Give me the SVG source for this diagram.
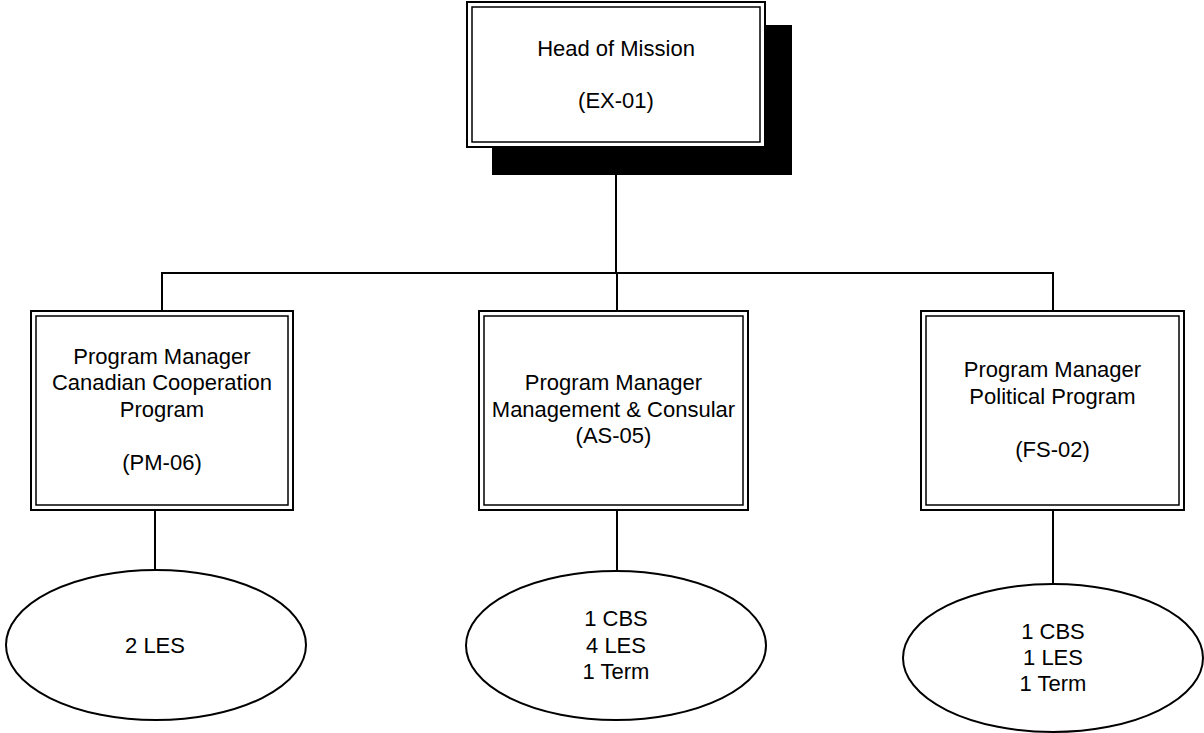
<svg xmlns="http://www.w3.org/2000/svg" width="1204" height="733" viewBox="0 0 1204 733">
<style>
.o{fill:#fff;stroke:#000;stroke-width:2}
.i{fill:none;stroke:#000;stroke-width:1.5}
.e{fill:#fff;stroke:#000;stroke-width:2}
.c{stroke:#000;stroke-width:2;fill:none}
text{font-family:"Liberation Sans",Arial,sans-serif;font-size:22px;fill:#000;text-anchor:middle}
</style>
<rect x="0" y="0" width="1204" height="733" fill="#fff"/>
<g id="connectors">
<line class="c" x1="616" y1="147" x2="616" y2="273"/>
<line class="c" x1="161" y1="273" x2="1054" y2="273"/>
<line class="c" x1="162" y1="273" x2="162" y2="311"/>
<line class="c" x1="617" y1="273" x2="617" y2="311"/>
<line class="c" x1="1053" y1="273" x2="1053" y2="311"/>
<line class="c" x1="155" y1="510" x2="155" y2="570"/>
<line class="c" x1="617" y1="510" x2="617" y2="571"/>
<line class="c" x1="1053" y1="510" x2="1053" y2="583"/>
</g>
<g id="head">
<rect x="492" y="25" width="300" height="150" fill="#000"/>
<rect class="o" x="467" y="2" width="298" height="145"/>
<rect class="i" x="472" y="7" width="288" height="135"/>
<text x="616" y="56">Head of Mission</text>
<text x="616" y="108">(EX-01)</text>
</g>
<g id="pm-cooperation">
<rect class="o" x="31" y="311" width="262" height="199"/>
<rect class="i" x="36" y="316" width="252" height="189"/>
<text x="162" y="364">Program Manager</text>
<text x="162" y="390">Canadian Cooperation</text>
<text x="162" y="417">Program</text>
<text x="162" y="470">(PM-06)</text>
</g>
<g id="pm-management">
<rect class="o" x="479" y="311" width="269" height="199"/>
<rect class="i" x="484" y="316" width="259" height="189"/>
<text x="613.5" y="390">Program Manager</text>
<text x="613.5" y="417">Management &amp; Consular</text>
<text x="613.5" y="443">(AS-05)</text>
</g>
<g id="pm-political">
<rect class="o" x="921" y="311" width="263" height="199"/>
<rect class="i" x="926" y="316" width="253" height="189"/>
<text x="1052.5" y="377">Program Manager</text>
<text x="1052.5" y="404">Political Program</text>
<text x="1052.5" y="457">(FS-02)</text>
</g>
<g id="staff-cooperation">
<ellipse class="e" cx="156" cy="645" rx="150" ry="75"/>
<text x="155" y="653">2 LES</text>
</g>
<g id="staff-management">
<ellipse class="e" cx="616" cy="645.5" rx="150" ry="74.5"/>
<text x="616" y="626">1 CBS</text>
<text x="616" y="653">4 LES</text>
<text x="616" y="679">1 Term</text>
</g>
<g id="staff-political">
<ellipse class="e" cx="1053" cy="658" rx="150" ry="74"/>
<text x="1053" y="639">1 CBS</text>
<text x="1053" y="665">1 LES</text>
<text x="1053" y="691">1 Term</text>
</g>
</svg>
